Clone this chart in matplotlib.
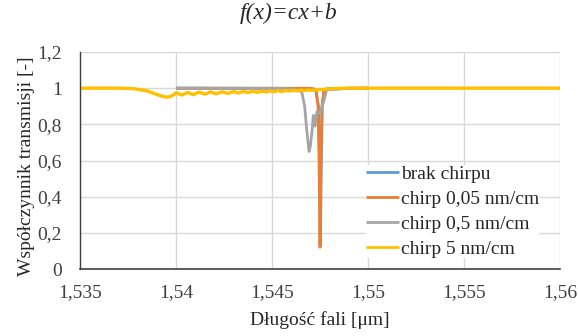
import matplotlib
matplotlib.use("Agg")
import matplotlib.pyplot as plt
from matplotlib.ticker import FuncFormatter

# ---- data ----
x_ticks = [1.535, 1.54, 1.545, 1.55, 1.555, 1.56]
y_ticks = [0, 0.2, 0.4, 0.6, 0.8, 1.0, 1.2]

blue_x = [1.5400, 1.5470, 1.5472, 1.5473, 1.54742, 1.54748, 1.54752, 1.54757, 1.54762, 1.5477, 1.5479, 1.5500]
blue_y = [1.000, 0.999, 0.995, 0.98, 0.90, 0.60, 0.13, 0.60, 0.90, 0.98, 0.998, 1.000]

orange_x = [1.5400, 1.5470, 1.5472, 1.5473, 1.5474, 1.54745, 1.5475, 1.54755, 1.5476, 1.5477, 1.5478, 1.5500]
orange_y = [1.000, 0.999, 0.995, 0.98, 0.90, 0.60, 0.12, 0.60, 0.90, 0.98, 0.995, 1.000]

gray_x = [1.5400, 1.5455, 1.5462, 1.54655, 1.5467, 1.5468, 1.5469, 1.54693, 1.5470,
          1.5471, 1.54715, 1.5472, 1.54724, 1.5473, 1.54734, 1.5475, 1.5477, 1.5478,
          1.54784, 1.5490, 1.5500]
gray_y = [1.000, 0.998, 0.995, 0.98, 0.90, 0.78, 0.68, 0.65, 0.68,
          0.78, 0.85, 0.82, 0.79, 0.84, 0.87, 0.86, 0.93, 0.97,
          0.99, 1.000, 1.000]

yellow_x = [1.5350, 1.5370, 1.5378, 1.5385, 1.5390, 1.5393, 1.5395, 1.5397, 1.5399,
            1.5400, 1.5403, 1.5406, 1.5409, 1.5412, 1.5415, 1.5418, 1.5421, 1.5424,
            1.5427, 1.5430, 1.54325, 1.5435, 1.54375, 1.5440, 1.54425, 1.5445, 1.5447,
            1.5449, 1.5451, 1.5453, 1.5455, 1.5457, 1.5459, 1.5461, 1.5463, 1.5465,
            1.5467, 1.5469, 1.5471, 1.5473, 1.5475, 1.5480, 1.5488, 1.5500, 1.5600]
yellow_y = [1.000, 1.000, 0.997, 0.985, 0.965, 0.955, 0.950, 0.953, 0.965,
            0.975, 0.962, 0.976, 0.964, 0.978, 0.967, 0.979, 0.969, 0.980,
            0.971, 0.981, 0.973, 0.982, 0.975, 0.983, 0.977, 0.984, 0.979,
            0.985, 0.980, 0.986, 0.982, 0.987, 0.984, 0.988, 0.985, 0.989,
            0.987, 0.990, 0.988, 0.991, 0.992, 0.996, 1.000, 1.000, 1.000]

labels = ["brak chirpu", "chirp 0,05 nm/cm", "chirp 0,5 nm/cm", "chirp 5 nm/cm"]
colors = ["#5B9BD5", "#ED7D31", "#A5A5A5", "#FFC000"]
widths = [2.0, 2.0, 2.0, 2.4]

# ---- figure ----
plt.rcParams['font.family'] = ['Liberation Serif', 'DejaVu Serif']
fig = plt.figure(figsize=(5.78, 3.36), dpi=100)
ax = fig.add_axes([80/578, 1-269/336, 480/578, 217/336])

series = [(blue_x, blue_y), (orange_x, orange_y), (gray_x, gray_y), (yellow_x, yellow_y)]
for (xs, ys), c, lab, w in zip(series, colors, labels, widths):
    ax.plot(xs, ys, color=c, lw=w, label=lab, solid_joinstyle='round',
            solid_capstyle='butt')

ax.set_xlim(1.535, 1.56)
ax.set_ylim(0, 1.2)
ax.set_xticks(x_ticks)
ax.set_yticks(y_ticks)

def fmt(v, pos):
    s = ('%.3f' % v).rstrip('0').rstrip('.')
    return s.replace('.', ',')
ax.xaxis.set_major_formatter(FuncFormatter(fmt))
ax.yaxis.set_major_formatter(FuncFormatter(fmt))

ax.grid(True, color='#D9D9D9', lw=1.0)
ax.set_axisbelow(True)
for s in ['top', 'right']:
    ax.spines[s].set_visible(False)
ax.spines['left'].set_color('#404040')
ax.spines['bottom'].set_color('#404040')
ax.spines['left'].set_linewidth(1.0)
ax.spines['bottom'].set_linewidth(1.2)
ax.tick_params(length=0, labelsize=14, colors='#404040')
ax.tick_params(axis='y', pad=13)
ax.tick_params(axis='x', pad=11)

ax.set_xlabel("Długość fali [μm]", fontsize=14, color='#262626')
ax.set_ylabel("Współczynnik transmisji [-]", fontsize=14, color='#262626')
ax.xaxis.set_label_coords((320-80)/480, -(320-269)/217)
ax.yaxis.set_label_coords(-(80-27)/480, (269-166)/217)
ax.xaxis.label.set_va('center')
ax.yaxis.label.set_va('center')

fig.text(289/578, 1-13/336, "f(x)=cx+b", ha='center', va='center', fontsize=17,
         style='italic', color='#262626')

leg = ax.legend(loc='upper left', bbox_to_anchor=((366-80)/480, (269-165)/217),
                frameon=True, fontsize=14, handlelength=1.7, handletextpad=0.1,
                labelspacing=0.39, borderpad=0.0, borderaxespad=0.0)
for h in leg.legend_handles:
    h.set_linewidth(2.0)
leg.get_frame().set_facecolor('white')
leg.get_frame().set_edgecolor('none')
leg.get_frame().set_alpha(1.0)
for t in leg.get_texts():
    t.set_color('#262626')

fig.savefig("out.png", dpi=100)
